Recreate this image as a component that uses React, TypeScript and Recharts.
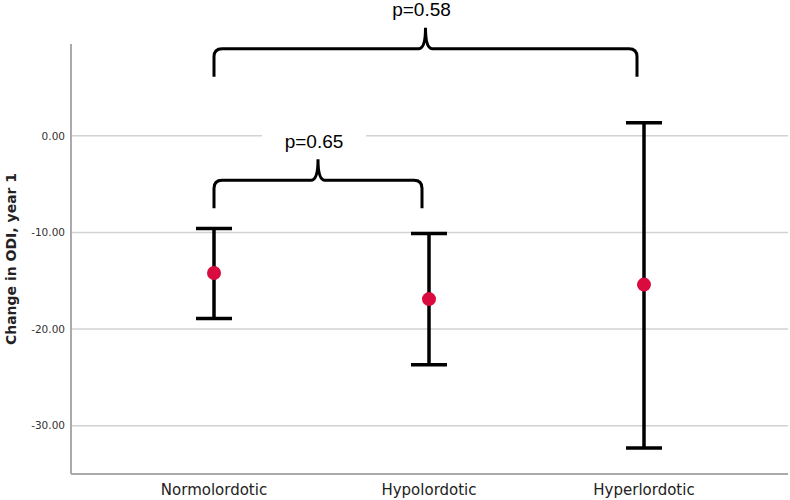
import React from 'react';
import { ComposedChart, Line, ErrorBar, XAxis, YAxis, CartesianGrid, ReferenceLine } from 'recharts';

const categories = ['Normolordotic', 'Hypolordotic', 'Hyperlordotic'];
const means = [-14.2, -16.9, -15.4];
const lowers = [-18.9, -23.7, -32.3];
const uppers = [-9.6, -10.1, 1.35];
const yTicks = [-30, -20, -10, 0];

const braceFrom = ['Normolordotic', 'Normolordotic'];
const braceTo = ['Hypolordotic', 'Hyperlordotic'];
const braceLevels = [-7.5, 6.1];
const braceLabels = ['p=0.65', 'p=0.58'];

const data = categories.map((name, i) => ({
  name,
  mean: means[i],
  err: [means[i] - lowers[i], uppers[i] - means[i]],
}));

const makeBrace = (label: string) => (props: any) => {
  const { x1, y1, x2 } = props;
  const xa = x1;
  const xb = x2 - 7;
  const y0 = y1;
  const L = 28;
  const C = 21;
  const r = 8;
  const yh = y0 - L;
  const xm = (xa + xb) / 2;
  const d = `M ${xa} ${y0} L ${xa} ${yh + r} Q ${xa} ${yh} ${xa + r} ${yh} L ${xm - 7} ${yh} Q ${xm} ${yh} ${xm} ${yh - C} Q ${xm} ${yh} ${xm + 7} ${yh} L ${xb - r} ${yh} Q ${xb} ${yh} ${xb} ${yh + r} L ${xb} ${y0}`;
  const tx = xm - 4;
  const ty = yh - C - 18;
  return (
    <g>
      <path d={d} fill="none" stroke="#000" strokeWidth={3} />
      <rect x={tx - 52} y={ty - 11} width={104} height={22} fill="#fff" />
      <text x={tx} y={ty} textAnchor="middle" dominantBaseline="central" fontSize={19} fill="#000" fontFamily="'Liberation Sans', Arial, sans-serif">
        {label}
      </text>
    </g>
  );
};

const yLabel = (props: any) => {
  const vb = props.viewBox || {};
  const cx = (vb.x || 0) + 11;
  const cy = (vb.y || 0) + (vb.height || 0) / 2;
  return (
    <text x={cx} y={cy} transform={`rotate(-90 ${cx} ${cy})`} textAnchor="middle" dominantBaseline="central" fontSize={14} fontWeight="bold" fill="#222" fontFamily="'DejaVu Sans', sans-serif">
      Change in ODI, year 1
    </text>
  );
};

export default function App() {
  return (
    <div style={{ position: 'absolute', left: 0, top: 0, width: 790, height: 500, background: '#fff' }}>
      <ComposedChart width={790} height={500} data={data} margin={{ top: 44, right: 2, bottom: 0, left: 0 }} style={{ fontFamily: "'DejaVu Sans', sans-serif" }}>
        <CartesianGrid vertical={false} horizontalValues={yTicks} stroke="#d2d2d2" strokeWidth={1.5} />
        <XAxis
          dataKey="name"
          type="category"
          interval={0}
          padding={{ left: 143, right: 144 }}
          height={26}
          tickLine={false}
          tickMargin={4}
          axisLine={{ stroke: '#aaaaaa', strokeWidth: 2 }}
          tick={{ fontSize: 15, fill: '#222' }}
        />
        <YAxis
          type="number"
          domain={[-35, 9.5]}
          ticks={yTicks}
          width={71}
          tickLine={false}
          tickMargin={0}
          axisLine={{ stroke: '#aaaaaa', strokeWidth: 2 }}
          tick={{ fontSize: 10.5, fill: '#333' }}
          tickFormatter={(v: number) => v.toFixed(2)}
          label={yLabel}
        />
        {braceLabels.map((lab, i) => (
          <ReferenceLine
            key={lab}
            ifOverflow="visible"
            segment={[{ x: braceFrom[i], y: braceLevels[i] }, { x: braceTo[i], y: braceLevels[i] }]}
            shape={makeBrace(lab)}
          />
        ))}
        <Line
          dataKey="mean"
          stroke="none"
          isAnimationActive={false}
          dot={{ r: 7, fill: '#DA0B3E', stroke: 'none' }}
          activeDot={false}
        >
          <ErrorBar dataKey="err" direction="y" width={18} strokeWidth={3.5} stroke="#000" isAnimationActive={false} />
        </Line>
      </ComposedChart>
    </div>
  );
}
